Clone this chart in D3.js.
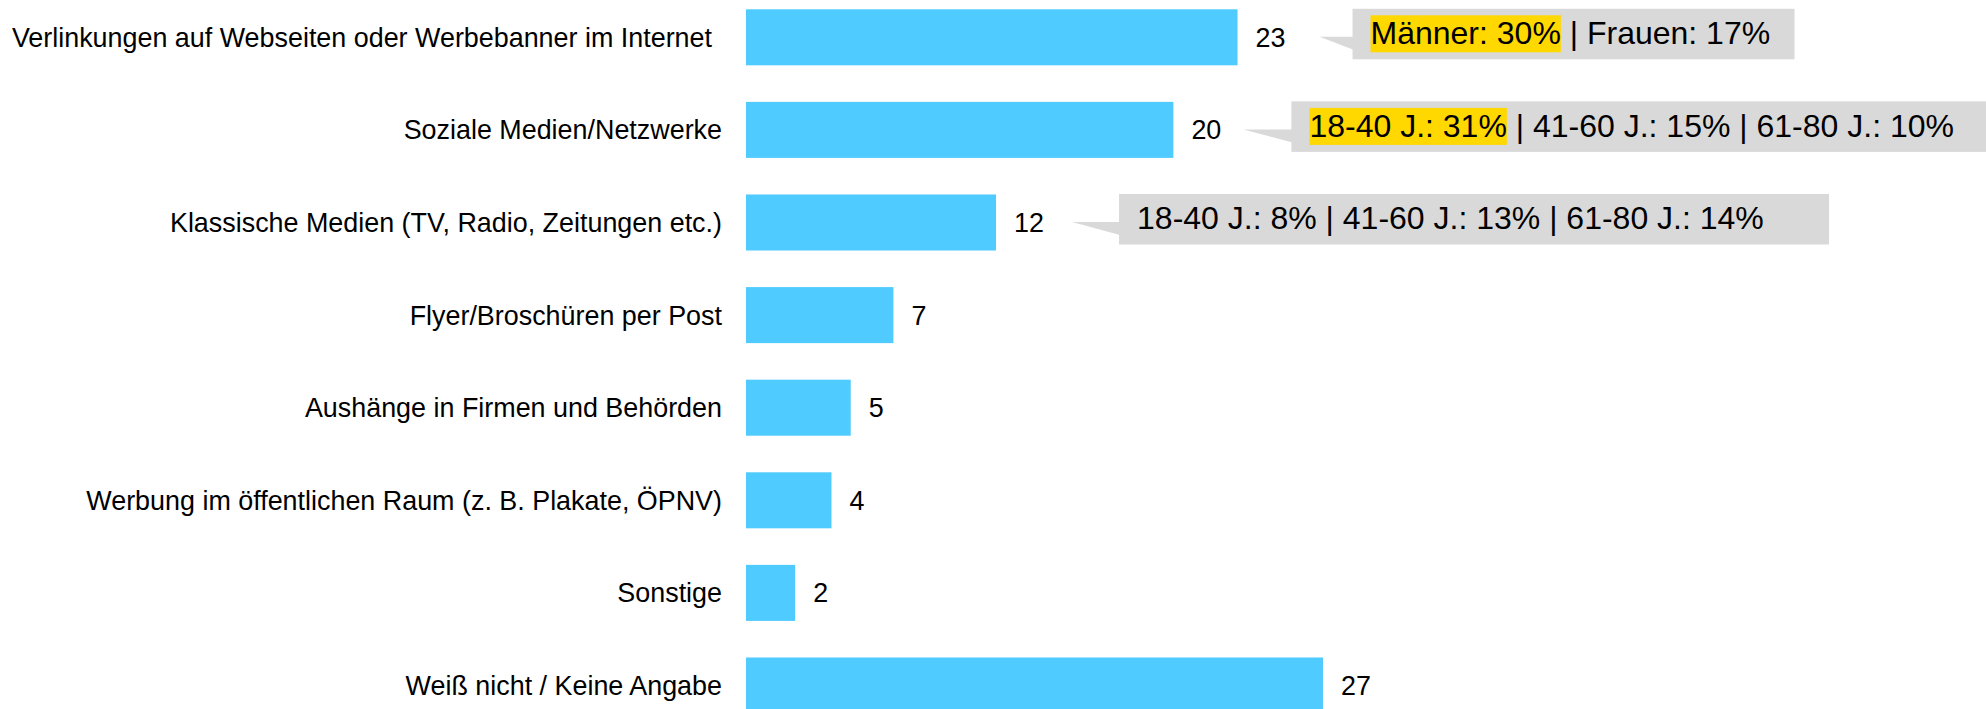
<!DOCTYPE html>
<html>
<style>
    body { margin: 0; background: #ffffff; }
    text { font-family: "Liberation Sans", Arial, sans-serif; fill: #000000; }
</style>

<head>
    <script src="https://d3js.org/d3.v7.min.js"></script>
</head>

<body>

    <div id="my_dataviz"></div>

    <script>

        // data
        var categories = [
            "Verlinkungen auf Webseiten oder Werbebanner im Internet",
            "Soziale Medien/Netzwerke",
            "Klassische Medien (TV, Radio, Zeitungen etc.)",
            "Flyer/Broschüren per Post",
            "Aushänge in Firmen und Behörden",
            "Werbung im öffentlichen Raum (z. B. Plakate, ÖPNV)",
            "Sonstige",
            "Weiß nicht / Keine Angabe"
        ];
        // bar lengths (labels show them rounded)
        var values = [23, 20, 11.7, 6.9, 4.9, 4, 2.3, 27];

        // callouts next to the first three bars
        var calloutRows = [0, 1, 2];
        var calloutHighlight = ["Männer: 30%", "18-40 J.: 31%", ""];
        var calloutRest = [" | Frauen: 17%", " | 41-60 J.: 15% | 61-80 J.: 10%", "18-40 J.: 8% | 41-60 J.: 13% | 61-80 J.: 14%"];

        // callout layout (gap from bar end, pointer length, box width)
        var calloutGap = [115, 118, 123];
        var pointerLen = [33, 48, 47];
        var calloutWidths = [442, 730, 710];

        var width = 1986, height = 709;

        var svg = d3.select("#my_dataviz")
            .append("svg")
            .attr("width", width)
            .attr("height", height);

        // scales
        var x = d3.scaleLinear()
            .domain([0, 27])
            .range([746, 1323]);

        var y = d3.scaleBand()
            .domain(categories)
            .range([-9, 731.8])
            .paddingInner(0.395)
            .paddingOuter(0.1975);

        // bars
        svg.selectAll("rect.bar")
            .data(values)
            .enter()
            .append("rect")
            .attr("class", "bar")
            .attr("x", x(0))
            .attr("y", function (d, i) { return y(categories[i]); })
            .attr("width", function (d) { return x(d) - x(0); })
            .attr("height", y.bandwidth())
            .attr("fill", "#50CBFF");

        // category labels (the long first one sits a little further left)
        svg.selectAll("text.cat")
            .data(categories)
            .enter()
            .append("text")
            .attr("class", "cat")
            .attr("x", x(0) - 24)
            .attr("dx", function (d, i) { return i === 0 ? -10 : 0; })
            .attr("y", function (d) { return y(d) + y.bandwidth() / 2; })
            .attr("dy", "0.35em")
            .attr("text-anchor", "end")
            .style("font-size", "26.9px")
            .text(function (d) { return d; });

        // value labels
        svg.selectAll("text.val")
            .data(values)
            .enter()
            .append("text")
            .attr("class", "val")
            .attr("x", function (d) { return x(d) + 18; })
            .attr("y", function (d, i) { return y(categories[i]) + y.bandwidth() / 2; })
            .attr("dy", "0.35em")
            .style("font-size", "26.9px")
            .text(function (d) { return Math.round(d); });

        // callout boxes
        calloutRows.forEach(function (row, k) {
            var top = y(categories[row]) - 0.5;
            var left = x(values[row]) + calloutGap[k];
            var tipX = left - pointerLen[k], tipY = top + 28;

            var g = svg.append("g");

            g.append("path")
                .attr("d", "M" + tipX + "," + tipY + "L" + (left + 1) + "," + tipY +
                    "L" + (left + 1) + "," + (tipY + 13) + "Z")
                .attr("fill", "#D9D9D9");

            g.append("rect")
                .attr("x", left)
                .attr("y", top)
                .attr("width", calloutWidths[k])
                .attr("height", 50.5)
                .attr("fill", "#D9D9D9");

            var tx = left + 18;
            var baseline = top + 35.5;

            if (calloutHighlight[k] !== "") {
                var hl = g.append("rect")
                    .attr("fill", "#FFD800");
                var ht = g.append("text")
                    .attr("x", tx)
                    .attr("y", baseline)
                    .style("font-size", "32px")
                    .text(calloutHighlight[k]);
                var w = ht.node().getComputedTextLength();
                hl.attr("x", tx)
                    .attr("y", baseline - 29)
                    .attr("width", w)
                    .attr("height", 37);
                tx = tx + w;
            }

            g.append("text")
                .attr("x", tx)
                .attr("y", baseline)
                .attr("xml:space", "preserve")
                .style("white-space", "pre")
                .style("font-size", "32px")
                .text(calloutRest[k]);
        });

    </script>
</body>

</html>
